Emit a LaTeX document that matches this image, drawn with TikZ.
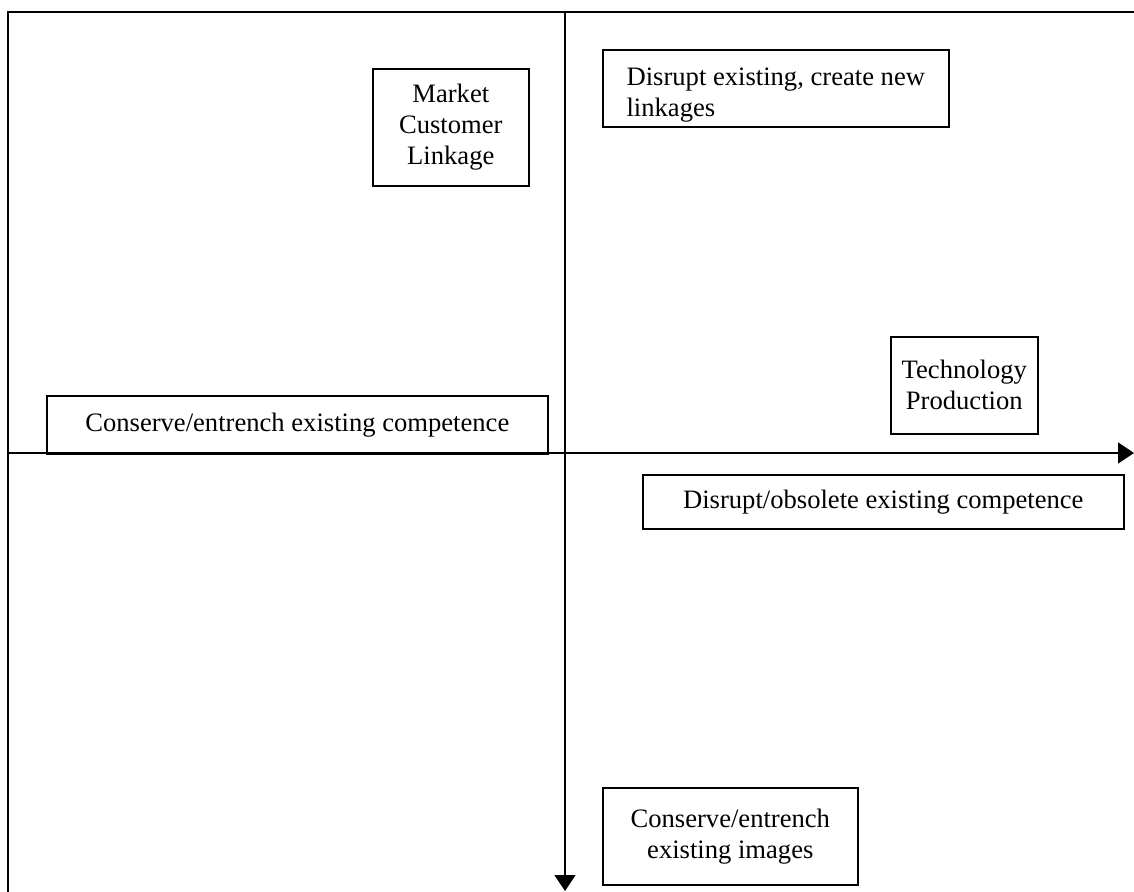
\documentclass[tikz,border=0pt]{standalone}
\usepackage{fontspec}
\setmainfont{Liberation Serif}
\usetikzlibrary{arrows.meta}
\begin{document}
\begin{tikzpicture}[x=1pt,y=-1pt,
  frame/.style={line width=1.8pt},
  box/.style={draw,line width=1.6pt,anchor=north west,inner sep=0pt,
    font=\fontsize{26.6}{31}\selectfont,align=center},
  axis/.style={line width=1.6pt,-{Triangle[width=21pt,length=16pt]}}]
\useasboundingbox (0,0) rectangle (1134,891);
% outer frame (only its left and top edges fall inside the page)
\coordinate (fbl) at (8,900);
\coordinate (ftl) at (8,12);
\coordinate (ftr) at (1140,12);
\draw[frame] (fbl) -- (ftl) -- (ftr);
% axes
\coordinate (ytop) at (565,12);
\coordinate (ybot) at (565,891);
\coordinate (xleft) at (8,453);
\coordinate (xright) at (1134,453);
\draw[axis] (xleft) -- (xright);
\draw[axis] (ytop) -- (ybot);
% quadrant labels
\node[box,minimum width=156pt,minimum height=117pt] (market) at (372,68)
  {Market\\Customer\\Linkage};
\node[box,minimum width=346pt,minimum height=77pt,align=left,text depth=0pt] (disruptnew) at (602,49)
  {\rule{0pt}{26pt}Disrupt existing, create new\\linkages};
\node[box,minimum width=147pt,minimum height=97pt] (tech) at (890,336)
  {Technology\\Production};
\node[box,minimum width=501pt,minimum height=58pt] (conscomp) at (46,395)
  {Conserve/entrench existing competence};
\node[box,minimum width=481pt,minimum height=54pt] (disrcomp) at (642,474)
  {Disrupt/obsolete existing competence};
\node[box,minimum width=255pt,minimum height=97pt] (consimg) at (602,787)
  {Conserve/entrench\\existing images};
\end{tikzpicture}
\end{document}
